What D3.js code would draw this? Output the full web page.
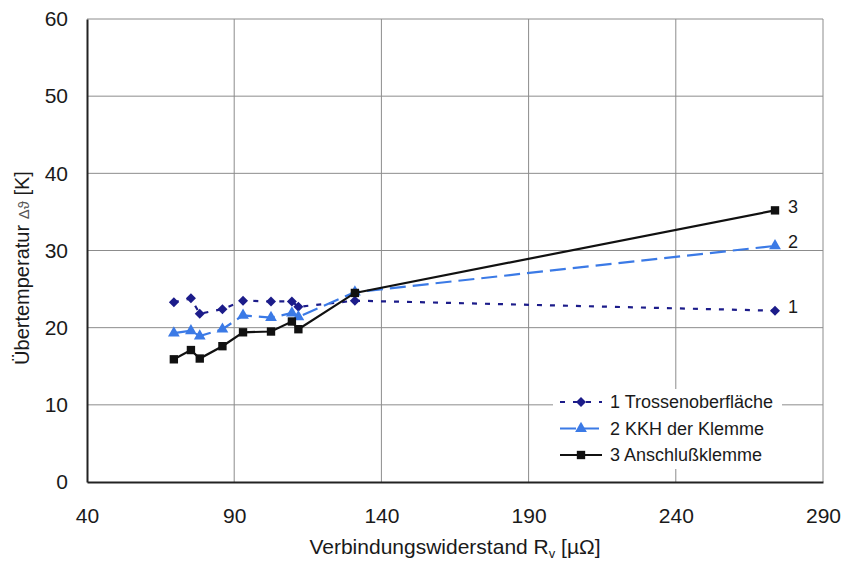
<!DOCTYPE html>
<html>
<head>
<meta charset="utf-8">
<script src="https://cdn.jsdelivr.net/npm/d3@7"></script>
<style>
  body { margin: 0; background: #fff; }
  svg text { font-family: "Liberation Sans", Arial, sans-serif; fill: #1a1a1a; }
</style>
</head>
<body>
<div id="chart"></div>
<script>
var resistance = [69.5, 75.3, 78.3, 86.0, 93.0, 102.5, 109.6, 111.8, 131.0, 273.7];
var trosse     = [23.3, 23.8, 21.8, 22.4, 23.5, 23.4, 23.4, 22.7, 23.5, 22.2];
var kkh        = [19.3, 19.6, 18.9, 19.8, 21.6, 21.3, 21.9, 21.4, 24.6, 30.6];
var klemme     = [15.9, 17.1, 16.0, 17.6, 19.4, 19.5, 20.8, 19.8, 24.5, 35.2];

var xTicks = [40, 90, 140, 190, 240, 290];
var yTicks = [0, 10, 20, 30, 40, 50, 60];

var seriesNames = ["1 Trossenoberfläche", "2 KKH der Klemme", "3 Anschlußklemme"];
var endLabels = ["1", "2", "3"];

var width = 842, height = 564;
var margin = {left: 87, right: 19, top: 19, bottom: 82};

var svg = d3.select("#chart").append("svg")
    .attr("width", width)
    .attr("height", height);

var x = d3.scaleLinear().domain([40, 290]).range([margin.left, width - margin.right]);
var y = d3.scaleLinear().domain([0, 60]).range([height - margin.bottom, margin.top]);

// grid
svg.append("g").selectAll("line.h")
    .data(yTicks.slice(1))
    .enter().append("line")
    .attr("x1", x(40)).attr("x2", x(290))
    .attr("y1", function(d) { return y(d); })
    .attr("y2", function(d) { return y(d); })
    .attr("stroke", "#8c8c8c").attr("stroke-width", 1);

svg.append("g").selectAll("line.v")
    .data(xTicks.slice(1))
    .enter().append("line")
    .attr("y1", y(0)).attr("y2", y(60))
    .attr("x1", function(d) { return x(d); })
    .attr("x2", function(d) { return x(d); })
    .attr("stroke", "#8c8c8c").attr("stroke-width", 1);

// axes
var xAxis = d3.axisBottom(x).tickValues(xTicks).tickSize(0).tickPadding(26);
var gx = svg.append("g")
    .attr("transform", "translate(0," + y(0) + ")")
    .call(xAxis);
gx.select(".domain").attr("stroke", "#222").attr("stroke-width", 2);
gx.selectAll("text").attr("font-size", "21px").attr("fill", "#1a1a1a");

var yAxis = d3.axisLeft(y).tickValues(yTicks).tickSize(0).tickPadding(19);
var gy = svg.append("g")
    .attr("transform", "translate(" + x(40) + ",0)")
    .call(yAxis);
gy.select(".domain").attr("stroke", "#222").attr("stroke-width", 2);
gy.selectAll("text").attr("font-size", "21px").attr("fill", "#1a1a1a");

// axis titles
var xt = svg.append("text")
    .attr("x", 455).attr("y", 554)
    .attr("text-anchor", "middle")
    .attr("font-size", "21px");
xt.append("tspan").text("Verbindungswiderstand R");
xt.append("tspan").text("v").attr("font-size", "13px").attr("dy", 4);
xt.append("tspan").text(" [µΩ]").attr("dy", -4);

var yt = svg.append("text")
    .attr("transform", "translate(29,268) rotate(-90)")
    .attr("text-anchor", "middle")
    .attr("font-size", "20px");
yt.append("tspan").text("Übertemperatur ");
yt.append("tspan").text("Δϑ").attr("font-size", "15px").attr("fill", "#555");
yt.append("tspan").text(" [K]");

// series
var series = [
    {values: trosse, color: "#1c1c8a", dash: "5,8", symbol: d3.symbolSquare, size: 50, rot: 45},
    {values: kkh, color: "#3b7ae6", dash: "16,7", symbol: d3.symbolTriangle, size: 60, rot: 0},
    {values: klemme, color: "#111111", dash: null, symbol: d3.symbolSquare, size: 70, rot: 0}
];

var line = d3.line()
    .x(function(d) { return x(d[0]); })
    .y(function(d) { return y(d[1]); });

series.forEach(function(s, i) {
    var pts = resistance.map(function(r, j) { return [r, s.values[j]]; });
    svg.append("path")
        .attr("d", line(pts))
        .attr("fill", "none")
        .attr("stroke", s.color)
        .attr("stroke-width", 2.2)
        .attr("stroke-dasharray", s.dash);
    svg.append("g").selectAll("path")
        .data(pts)
        .enter().append("path")
        .attr("transform", function(d) { return "translate(" + x(d[0]) + "," + y(d[1]) + ") rotate(" + s.rot + ")"; })
        .attr("d", d3.symbol().type(s.symbol).size(s.size))
        .attr("fill", s.color);
    var last = pts[pts.length - 1];
    svg.append("text")
        .attr("x", x(last[0]) + 13)
        .attr("y", y(last[1]) - 4)
        .attr("dy", "0.35em")
        .attr("font-size", "18px")
        .text(endLabels[i]);
});

// legend
var legend = svg.append("g");
legend.append("rect")
    .attr("x", 553).attr("y", 389).attr("width", 229).attr("height", 80)
    .attr("fill", "#fff");
series.forEach(function(s, i) {
    var ly = 402 + i * 26.5;
    legend.append("line")
        .attr("x1", 560).attr("x2", 602)
        .attr("y1", ly).attr("y2", ly)
        .attr("stroke", s.color).attr("stroke-width", 2.2)
        .attr("stroke-dasharray", i == 0 ? "5,8" : (i == 1 ? "16,7" : null));
    legend.append("path")
        .attr("transform", "translate(581," + ly + ") rotate(" + s.rot + ")")
        .attr("d", d3.symbol().type(s.symbol).size(s.size))
        .attr("fill", s.color);
    legend.append("text")
        .attr("x", 610).attr("y", ly)
        .attr("dy", "0.35em")
        .attr("font-size", "18px")
        .text(seriesNames[i]);
});
</script>
</body>
</html>
